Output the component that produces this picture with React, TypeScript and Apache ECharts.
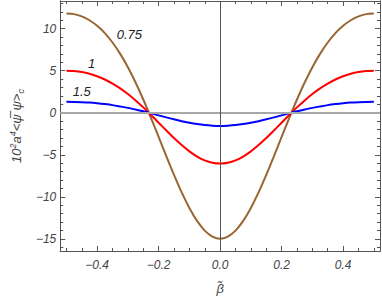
import React, { useEffect, useRef } from "react";
import * as echarts from "echarts";

const beta = [
  -0.5, -0.475, -0.45, -0.425, -0.4, -0.375, -0.35, -0.325, -0.3, -0.275, -0.25, -0.225, -0.2, -0.175, -0.15, -0.125, -0.1, -0.075, -0.05, -0.025,
  0,
  0.025, 0.05, 0.075, 0.1, 0.125, 0.15, 0.175, 0.2, 0.225, 0.25, 0.275, 0.3, 0.325, 0.35, 0.375, 0.4, 0.425, 0.45, 0.475, 0.5,
];
const curve075 = [
  11.82, 11.74, 11.47, 11.01, 10.35, 9.48, 8.36, 7.01, 5.42, 3.6, 1.58, -0.6, -2.87, -5.16, -7.39, -9.48, -11.33, -12.87, -14.02, -14.73,
  -15.0,
  -14.73, -14.02, -12.87, -11.33, -9.48, -7.39, -5.16, -2.87, -0.6, 1.58, 3.6, 5.42, 7.01, 8.36, 9.48, 10.35, 11.01, 11.47, 11.74, 11.82,
];
const curve1 = [
  5.0, 4.96, 4.84, 4.64, 4.35, 3.96, 3.48, 2.91, 2.23, 1.47, 0.64, -0.26, -1.18, -2.11, -3.01, -3.85, -4.59, -5.21, -5.67, -5.95,
  -6.05,
  -5.95, -5.67, -5.21, -4.59, -3.85, -3.01, -2.11, -1.18, -0.26, 0.64, 1.47, 2.23, 2.91, 3.48, 3.96, 4.35, 4.64, 4.84, 4.96, 5.0,
];
const curve15 = [
  1.3, 1.29, 1.26, 1.21, 1.13, 1.03, 0.91, 0.75, 0.58, 0.38, 0.17, -0.07, -0.31, -0.55, -0.78, -1.0, -1.19, -1.35, -1.47, -1.54,
  -1.57,
  -1.54, -1.47, -1.35, -1.19, -1.0, -0.78, -0.55, -0.31, -0.07, 0.17, 0.38, 0.58, 0.75, 0.91, 1.03, 1.13, 1.21, 1.26, 1.29, 1.3,
];

const xMajor = [-0.4, -0.2, 0, 0.2, 0.4];
const xMinor = [-0.5, -0.45, -0.35, -0.3, -0.25, -0.15, -0.1, -0.05, 0.05, 0.1, 0.15, 0.25, 0.3, 0.35, 0.45, 0.5];
const yMajor = [-15, -10, -5, 0, 5, 10];
const yMinor = [-16, -14, -13, -12, -11, -9, -8, -7, -6, -4, -3, -2, -1, 1, 2, 3, 4, 6, 7, 8, 9, 11, 12, 13];

const curveLabels = [
  { name: "0.75", coord: [-0.295, 9.33] },
  { name: "1", coord: [-0.418, 5.88] },
  { name: "1.5", coord: [-0.45, 2.59] },
];

const X_MIN = -0.52, X_MAX = 0.52, Y_MIN = -16.45, Y_MAX = 13.3;
const FRAME = "#555555";
const TEXT = "#444444";
const FONT = "Liberation Sans, Arial, sans-serif";

const minus = (v: number, digits: number) => {
  const s = Math.abs(v).toFixed(digits);
  return v < -1e-9 ? "\u2212" + s : s;
};

function xAxisDef(pos: "bottom" | "top", values: number[], len: number, labels: boolean, extra: any = {}) {
  return {
    type: "value", min: X_MIN, max: X_MAX, position: pos,
    axisLine: { show: true, onZero: false, lineStyle: { color: FRAME, width: 1 } },
    axisTick: { show: true, inside: true, length: len, customValues: values, lineStyle: { color: FRAME, width: 1 } },
    axisLabel: labels
      ? { show: true, customValues: values, formatter: (v: number) => minus(v, 1), fontStyle: "italic", fontSize: 12, color: TEXT, fontFamily: FONT, margin: 8 }
      : { show: false },
    splitLine: { show: false },
    ...extra,
  };
}
function yAxisDef(pos: "left" | "right", values: number[], len: number, labels: boolean, extra: any = {}) {
  return {
    type: "value", min: Y_MIN, max: Y_MAX, position: pos,
    axisLine: { show: true, onZero: false, lineStyle: { color: FRAME, width: 1 } },
    axisTick: { show: true, inside: true, length: len, customValues: values, lineStyle: { color: FRAME, width: 1 } },
    axisLabel: labels
      ? { show: true, customValues: values, formatter: (v: number) => minus(v, 0), fontStyle: "italic", fontSize: 12, color: TEXT, fontFamily: FONT, margin: 4 }
      : { show: false },
    splitLine: { show: false },
    ...extra,
  };
}

const makePairs = (ys: number[]) => beta.map((x, i) => [x, ys[i]]);

export default function App() {
  const ref = useRef<HTMLDivElement>(null);
  useEffect(() => {
    if (!ref.current) return;
    const chart = echarts.init(ref.current, undefined, { renderer: "svg" });
    const curveSeries = (data: number[], color: string, label: { name: string; coord: number[] }) => ({
      type: "line",
      xAxisIndex: 0,
      yAxisIndex: 0,
      data: makePairs(data),
      smooth: 0.3,
      showSymbol: false,
      symbol: "none",
      z: 3,
      lineStyle: { color, width: 2 },
      markPoint: {
        symbol: "circle",
        symbolSize: 0,
        silent: true,
        data: [{ coord: label.coord, value: label.name }],
        label: { show: true, position: "inside", formatter: label.name, color: "#222", fontStyle: "italic", fontSize: 13, fontFamily: FONT },
      },
    });
    chart.setOption({
      animation: false,
      backgroundColor: "#ffffff",
      grid: { left: 52, right: 2, top: 1, bottom: 46, containLabel: false },
      xAxis: [
        xAxisDef("bottom", xMajor, 5, true, {
          name: "\u03B2\u0303",
          nameLocation: "middle",
          nameGap: 31,
          nameTextStyle: { fontStyle: "italic", fontSize: 13, color: TEXT, fontFamily: FONT },
        }),
        xAxisDef("bottom", xMinor, 3, false),
        xAxisDef("top", xMajor, 5, false),
        xAxisDef("top", xMinor, 3, false),
      ],
      yAxis: [
        yAxisDef("left", yMajor, 5, true, {
          name: "10{sup|2}a{sup|4}<\u03C8\u0305 \u03C8>{sub|c}",
          nameLocation: "middle",
          nameRotate: 90,
          nameGap: 34,
          nameTextStyle: {
            fontStyle: "italic", fontSize: 13, color: TEXT, fontFamily: FONT, lineHeight: 17,
            rich: {
              sup: { fontSize: 9, verticalAlign: "top", fontStyle: "italic", color: TEXT, fontFamily: FONT, lineHeight: 17 },
              sub: { fontSize: 9, verticalAlign: "bottom", fontStyle: "italic", color: TEXT, fontFamily: FONT, lineHeight: 12 },
            },
          },
        }),
        yAxisDef("left", yMinor, 3, false),
        yAxisDef("right", yMajor, 5, false),
        yAxisDef("right", yMinor, 3, false),
      ],
      series: [
        {
          type: "line",
          xAxisIndex: 0,
          yAxisIndex: 0,
          data: [],
          z: 1,
          markLine: {
            silent: true,
            symbol: "none",
            label: { show: false },
            data: [
              { yAxis: 0, lineStyle: { color: "#a8a8a8", width: 2, type: "solid" } },
              { xAxis: 0, lineStyle: { color: "#555555", width: 1, type: "solid" } },
            ],
          },
        },
        curveSeries(curve075, "#996633", curveLabels[0]),
        curveSeries(curve1, "#ff0000", curveLabels[1]),
        curveSeries(curve15, "#0000ff", curveLabels[2]),
      ],
    });
    return () => chart.dispose();
  }, []);
  return (
    <div
      ref={ref}
      style={{ position: "fixed", left: 0, top: 0, width: 382, height: 300, background: "#fff" }}
    />
  );
}
